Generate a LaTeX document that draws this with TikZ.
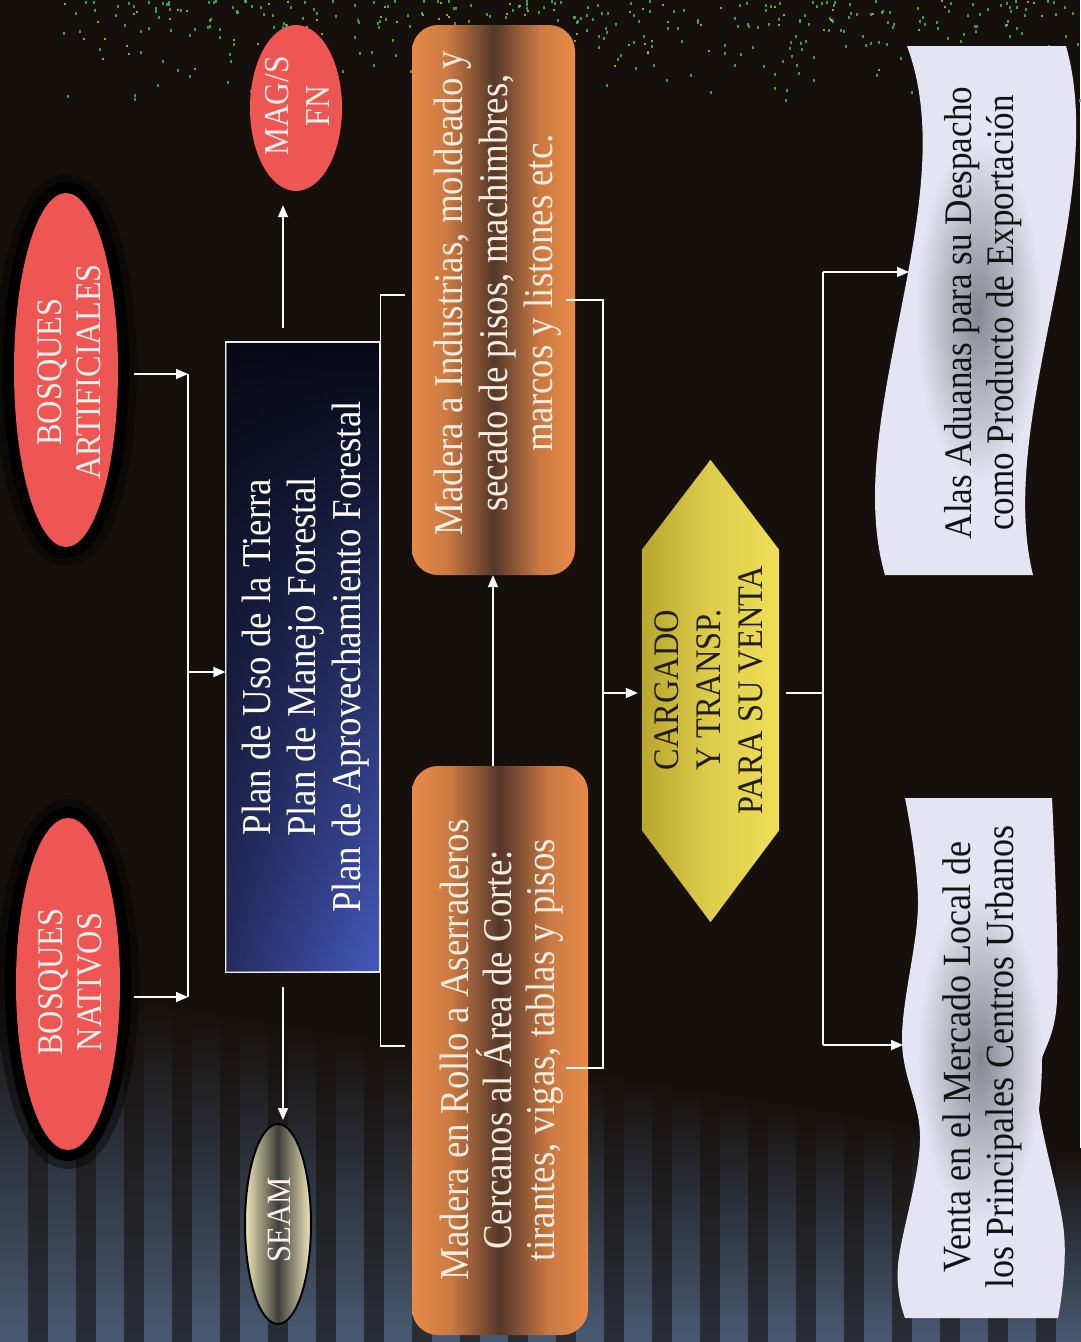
\documentclass[tikz,border=0pt]{standalone}
\usepackage{fontspec}
\setmainfont[FakeStretch=0.9]{Liberation Serif}
\usetikzlibrary{shapes.geometric,arrows.meta,calc,fadings}
\definecolor{bg}{RGB}{22,16,12}
\definecolor{bosq}{RGB}{238,86,84}
\definecolor{orng}{RGB}{232,138,72}
\definecolor{brwn}{RGB}{84,56,42}
\definecolor{navyd}{RGB}{8,8,20}
\definecolor{navym}{RGB}{30,36,100}
\definecolor{navyb}{RGB}{70,90,190}
\definecolor{goldd}{RGB}{184,166,46}
\definecolor{goldl}{RGB}{238,222,88}
\definecolor{lav}{RGB}{228,228,242}
\definecolor{lavd}{RGB}{135,135,145}
\definecolor{cream}{RGB}{240,232,186}
\definecolor{seamd}{RGB}{62,62,58}
\definecolor{slate}{RGB}{72,90,114}
\definecolor{speck}{RGB}{70,190,80}
\definecolor{specky}{RGB}{205,205,70}
\definecolor{txtw}{RGB}{252,240,236}
\definecolor{txto}{RGB}{246,236,224}
\definecolor{hexc}{RGB}{34,30,14}
\definecolor{wbtxt}{RGB}{18,18,22}
\pgfdeclarehorizontalshading{orband}{100bp}{color(0bp)=(orng); color(25bp)=(orng); color(36bp)=(orng!80!brwn); color(50bp)=(brwn); color(64bp)=(orng!80!brwn); color(75bp)=(orng); color(100bp)=(orng)}
\begin{document}
\begin{tikzpicture}[x=1pt,y=-1pt,
  conn/.style={draw=white, line width=1.6pt},
  arr/.style={conn, -{Triangle[length=12pt,width=10pt]}},
  bosqe/.style={ellipse, fill=bosq, inner sep=0,
    preaction={draw=black, line width=38pt, opacity=0.4},
    preaction={draw=black, line width=22pt}},
  obox/.style={rectangle, rounded corners=26pt, shading=orband, inner sep=0},
  lbl/.style={rotate=90, align=center, inner sep=0},
  ghost/.style={rectangle, inner sep=0}
]
\useasboundingbox (0,0) rectangle (1080,1342);
% background
\fill[bg] (0,0) rectangle (1080,1342);
\foreach \sx in {0,48,...,1060}{
  \pgfmathsetmacro{\sy}{980+0.16*\sx}
  \shade[top color=bg, bottom color=slate] (\sx,\sy) rectangle (\sx+28,1342);
  \shade[top color=bg, bottom color=slate!40!bg] (\sx+28,\sy) rectangle (\sx+48,1342);
}
\pgfmathsetseed{4711}
\foreach \k in {1,...,320}{
  \pgfmathsetmacro{\px}{60+rnd*1020}
  \pgfmathsetmacro{\py}{rnd*rnd*110}
  \fill[speck, opacity=0.8] (\px,\py) rectangle ++(2,3);
}
\foreach \k in {1,...,70}{
  \pgfmathsetmacro{\px}{60+rnd*1020}
  \pgfmathsetmacro{\py}{rnd*rnd*95}
  \fill[specky, opacity=0.75] (\px,\py) rectangle ++(2,2);
}

% ellipses
\node[bosqe, minimum width=104, minimum height=354] (artf) at (66,370) {};
\node[lbl, text=txtw, font=\fontsize{36}{39}\selectfont] (artft) at (69,372) {BOSQUES\\ARTIFICIALES};
\node[bosqe, minimum width=104, minimum height=332] (natv) at (68,984) {};
\node[lbl, text=txtw, font=\fontsize{36}{39}\selectfont] (natvt) at (70,982) {BOSQUES\\NATIVOS};
\node[ellipse, fill=bosq, inner sep=0, minimum width=92, minimum height=166] (mags) at (296,108) {};
\node[lbl, text=txtw, font=\fontsize{35}{41}\selectfont] (magst) at (297,106) {MAG/S\\FN};
\node[ellipse, draw=black, line width=2pt, inner sep=0, minimum width=66, minimum height=200,
      left color=cream, right color=cream, middle color=seamd] (seam) at (278,1224) {};
\node[lbl, text=txtw, font=\fontsize{34}{38}\selectfont] (seamt) at (279,1220) {SEAM};

% plan box
\node[rectangle, draw=white!85!gray, line width=1.2pt, inner sep=0, minimum width=154, minimum height=630,
      top color=navyd, middle color=navym, bottom color=navyb] (plan) at (303,657) {};
\fill[navyd, path fading=east, opacity=0.55] ($(plan.south west)+(1,-1)$) rectangle ($(plan.north east)+(-1,1)$);
\node[lbl, text=white, font=\fontsize{41}{45}\selectfont] (plant) at (306,657)
  {Plan de Uso de la Tierra\\Plan de Manejo Forestal\\Plan de Aprovechamiento Forestal};

% orange boxes
\node[obox, minimum width=163, minimum height=550] (upor) at (493.5,300) {};
\node[lbl, text=txto, font=\fontsize{41}{45}\selectfont] (uport) at (498,293)
  {Madera a Industrias, moldeado y\\secado de pisos, machimbres,\\marcos y listones etc.};
\node[obox, minimum width=176, minimum height=569] (loor) at (500,1050.5) {};
\node[lbl, text=txto, font=\fontsize{41}{43}\selectfont] (loort) at (502,1050)
  {Madera en Rollo a Aserraderos\\Cercanos al Área de Corte:\\tirantes, vigas, tablas y pisos};

% hexagon
\node[ghost, minimum width=137, minimum height=462] (hexbox) at (710.5,691) {};
\shade[left color=goldd, right color=goldl, middle color=goldl!70!goldd]
  (hexbox.north) -- ($(hexbox.north east)+(0,90)$) -- ($(hexbox.south east)+(0,-92)$)
  -- (hexbox.south) -- ($(hexbox.south west)+(0,-92)$) -- ($(hexbox.north west)+(0,90)$) -- cycle;
\node[lbl, text=hexc, font=\fontsize{36}{42}\selectfont] (hext) at (709,690) {CARGADO\\Y TRANSP.\\PARA SU VENTA};

% wavy boxes
\node[ghost, minimum width=200, minimum height=530] (alas) at (977,311) {};
\fill[lav] (907,46) -- (1066,46) .. controls (1110,200) and (995,420) .. (1033,575)
  -- (885,575) .. controls (840,420) and (965,200) .. (907,46) -- cycle;
\shade[inner color=lavd, outer color=lav] (978,312) ellipse (62 and 170);
\node[lbl, text=wbtxt, font=\fontsize{39}{42}\selectfont] (alast) at (983,313)
  {Alas Aduanas para su Despacho\\como Producto de Exportación};

\node[ghost, minimum width=166, minimum height=520] (venta) at (981,1058) {};
\fill[lav] plot[smooth, tension=0.6] coordinates {(905,798) (918,905) (902,1040) (920,1140) (898,1265) (905,1318)}
  -- plot[smooth, tension=0.6] coordinates {(1058,1318) (1064,1233) (1037,1090) (1057,1000) (1052,798)} -- cycle;
\shade[inner color=lavd, outer color=lav] (980,1058) ellipse (62 and 165);
\node[lbl, text=wbtxt, font=\fontsize{40}{43}\selectfont] (ventat) at (982,1057)
  {Venta en el Mercado Local de\\los Principales Centros Urbanos};

% connectors: inputs to plan
\coordinate (busT) at (188,374);
\coordinate (busB) at (188,997);
\coordinate (busM) at (188,672);
\draw[conn] (busT) -- (busB);
\draw[arr] ($(artf.east |- busT)+(16,0)$) -- (busT);
\draw[arr] ($(natv.east |- busB)+(14,0)$) -- (busB);
\draw[arr] (busM) -- (busM -| plan.west);

% plan to MAG/S and SEAM
\coordinate (mA) at (283,328);
\draw[arr] (mA) -- ($(mA |- mags.south)+(0,14)$);
\coordinate (sA) at (283,987);
\draw[arr] (sA) -- ($(sA |- seam.north)+(0,-3)$);

% left bracket plan -> orange boxes
\coordinate (lbT) at (plan.east |- 0,295);
\coordinate (lbB) at (plan.east |- 0,1046);
\draw[conn] ($(upor.west |- lbT)+(-7,0)$) -- (lbT) -- (lbB) -- ($(loor.west |- lbB)+(-7,0)$);

% lower orange -> upper orange
\coordinate (uA) at (493,0);
\draw[arr] (loor.north -| uA) -- (upor.south -| uA);

% right bracket orange boxes -> hexagon
\coordinate (rbT) at (603,300);
\coordinate (rbB) at (603,1068);
\coordinate (rbM) at (603,693);
\draw[conn] ($(upor.east |- rbT)+(-9,0)$) -- (rbT) -- (rbB) -- ($(loor.east |- rbB)+(-22,0)$);
\draw[arr] (rbM) -- ($(rbM -| hexbox.west)+(-4,0)$);

% hexagon -> outputs
\coordinate (obM) at (823,693);
\coordinate (obT) at (823,272);
\coordinate (obB) at (823,1045);
\coordinate (alasIn) at (909,272);
\coordinate (ventaIn) at (903,1045);
\draw[conn] ($(hexbox.east |- obM)+(7,0)$) -- (obM);
\draw[conn] (obT) -- (obB);
\draw[arr] (obT) -- (alasIn);
\draw[arr] (obB) -- (ventaIn);
\end{tikzpicture}
\end{document}
